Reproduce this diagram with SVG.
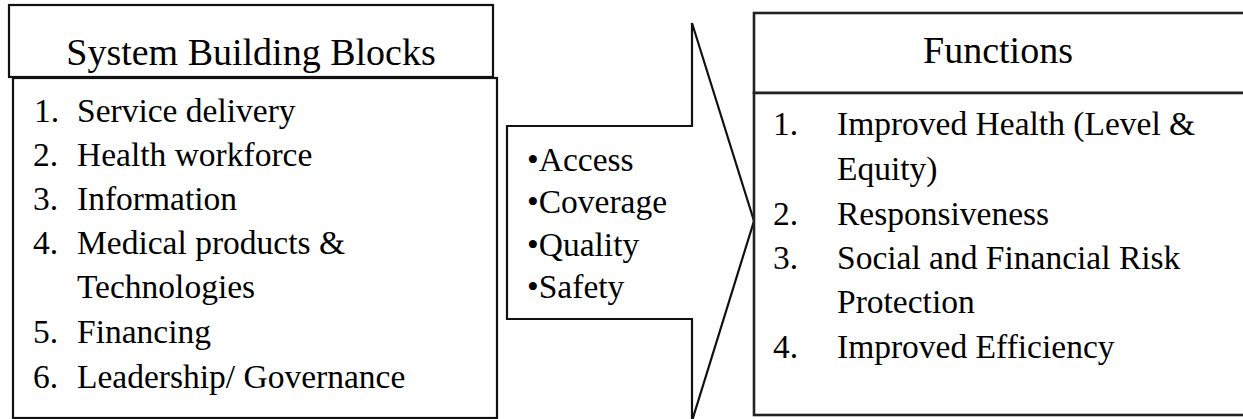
<svg xmlns="http://www.w3.org/2000/svg" width="1243" height="419" viewBox="0 0 1243 419">
<style>
.box{fill:#fff;stroke:#111;stroke-width:2.2}
.t{font-family:"Liberation Serif","Times New Roman",serif;fill:#000}
.h{font-size:38px}
.i{font-size:33.5px}
</style>
<rect width="1243" height="419" fill="#fff"/>
<g id="connectors">
<polygon id="arrow" class="box" points="507,126 692,126 692,23 754,221 692,421 692,319 507,319"/>
</g>
<g id="building-blocks-title">
<rect class="box" x="9" y="5" width="484" height="72"/>
<text class="t h" x="251" y="65" text-anchor="middle">System Building Blocks</text>
</g>
<g id="building-blocks-list">
<rect class="box" x="13" y="78" width="484" height="340"/>
<text class="t i">
<tspan x="34" y="122">1.</tspan><tspan x="77" y="122">Service delivery</tspan>
<tspan x="33" y="166">2.</tspan><tspan x="77" y="166">Health workforce</tspan>
<tspan x="33" y="210">3.</tspan><tspan x="77" y="210">Information</tspan>
<tspan x="33" y="254">4.</tspan><tspan x="77" y="254">Medical products &amp;</tspan>
<tspan x="77" y="298">Technologies</tspan>
<tspan x="33" y="343">5.</tspan><tspan x="77" y="343">Financing</tspan>
<tspan x="33" y="388">6.</tspan><tspan x="77" y="388">Leadership/ Governance</tspan>
</text>
</g>
<g id="outcomes">
<text class="t i">
<tspan x="527" y="171">•Access</tspan>
<tspan x="527" y="213">•Coverage</tspan>
<tspan x="527" y="256">•Quality</tspan>
<tspan x="527" y="298">•Safety</tspan>
</text>
</g>
<g id="functions-title">
<rect class="box" x="754" y="13" width="500" height="80" style="stroke-width:2.6;stroke:#222"/>
<text class="t h" x="998" y="63" text-anchor="middle">Functions</text>
</g>
<g id="functions-list">
<rect class="box" x="754" y="93" width="500" height="322" style="stroke-width:2.6;stroke:#222"/>
<text class="t i">
<tspan x="773" y="135">1.</tspan><tspan x="837" y="135">Improved Health (Level &amp;</tspan>
<tspan x="837" y="180">Equity)</tspan>
<tspan x="773" y="225">2.</tspan><tspan x="837" y="225">Responsiveness</tspan>
<tspan x="773" y="269">3.</tspan><tspan x="837" y="269">Social and Financial Risk</tspan>
<tspan x="837" y="313">Protection</tspan>
<tspan x="773" y="358">4.</tspan><tspan x="837" y="358">Improved Efficiency</tspan>
</text>
</g>
</svg>
